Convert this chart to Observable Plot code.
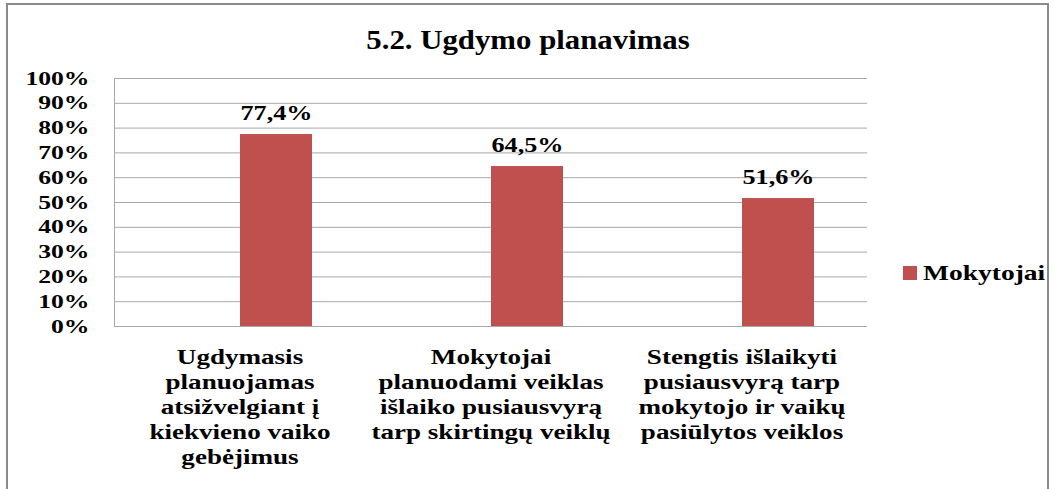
<!DOCTYPE html>
<html>
<head>
<meta charset="utf-8">
<script src="https://cdn.jsdelivr.net/npm/d3@7"></script>
<script src="https://cdn.jsdelivr.net/npm/@observablehq/plot@0.6"></script>
<style>
  html, body { margin: 0; padding: 0; width: 1057px; height: 489px; overflow: hidden; background: #fff; }
  #frame { position: absolute; left: 6px; top: 3px; width: 1043px; height: 600px; border: 2px solid #8a8a8a; box-sizing: border-box; }
  #title { position: absolute; left: 0; top: 26px; width: 1057px; text-align: center; }
  #title span { display: inline-block; font: bold 28px/28px "Liberation Serif", "Times New Roman", serif; color: #000; transform: scaleX(1.1); transform-origin: center; }
  #chart { position: absolute; left: 0; top: 60px; }
  #legend { position: absolute; left: 903px; top: 260px; height: 26px; display: flex; align-items: center; }
  #legend .sw { width: 14px; height: 14px; background: #C0504D; margin-right: 6px; }
  #legend .lb { font: bold 22px/26px "Liberation Serif", "Times New Roman", serif; color: #000; transform: scaleX(1.25); transform-origin: left center; }
</style>
</head>
<body>
<div id="frame"></div>
<div id="title"><span>5.2. Ugdymo planavimas</span></div>
<div id="chart"></div>
<div id="legend"><div class="sw"></div><div class="lb">Mokytojai</div></div>
<script>
const categories = [
  "Ugdymasis\nplanuojamas\natsižvelgiant į\nkiekvieno vaiko\ngebėjimus",
  "Mokytojai\nplanuodami veiklas\nišlaiko pusiausvyrą\ntarp skirtingų veiklų",
  "Stengtis išlaikyti\npusiausvyrą tarp\nmokytojo ir vaikų\npasiūlytos veiklos"
];
const seriesName = "Mokytojai";
const values = [77.4, 64.5, 51.6];
const yTicks = [0, 10, 20, 30, 40, 50, 60, 70, 80, 90, 100];

const data = categories.map((c, i) => ({category: c, series: seriesName, value: values[i]}));
const fmt = v => v.toFixed(1).replace(".", ",") + "%";

const chart = Plot.plot({
  width: 1057,
  height: 429,
  marginLeft: 113,
  marginRight: 190,
  marginTop: 18,
  marginBottom: 163,
  style: "font-family: 'Liberation Serif', 'Times New Roman', serif; color: #000; background: transparent; overflow: visible;",
  fx: {domain: categories, padding: 0, label: null},
  x: {domain: ["", seriesName], paddingInner: 0, paddingOuter: 0.72, axis: null},
  y: {domain: [0, 100], label: null},
  marks: [
    Plot.ruleY(yTicks, {stroke: "#a8a8a8", strokeWidth: 1}),
    Plot.frame({anchor: "left", facetAnchor: "left", stroke: "#a8a8a8"}),
    Plot.barY(data, {fx: "category", x: "series", y: "value", fill: "#C0504D"}),
    Plot.text(data, {fx: "category", x: "series", y: "value", text: d => fmt(d.value), dy: -22, fontSize: 22, fontWeight: "bold"}),
    Plot.axisY({ticks: yTicks, tickFormat: d => d + "%", tickSize: 0, tickPadding: 25, fontSize: 19, fontWeight: "bold", label: null}),
    Plot.axisFx({anchor: "bottom", tickSize: 0, tickPadding: 20, fontSize: 21, fontWeight: "bold", lineHeight: 1.19, label: null})
  ]
});
document.getElementById("chart").appendChild(chart);

// Horizontal glyph stretch (the reference text is drawn wide)
function stretch(sel, s) {
  chart.querySelectorAll(sel).forEach(t => {
    const tr = t.getAttribute("transform") || "";
    t.setAttribute("transform", `${tr} scale(${s},1)`.trim());
  });
}
stretch('g[aria-label="y-axis tick label"] text', 1.35);
stretch('g[aria-label="fx-axis tick label"] text', 1.29);
stretch('g[aria-label="text"] text', 1.19);
</script>
</body>
</html>
